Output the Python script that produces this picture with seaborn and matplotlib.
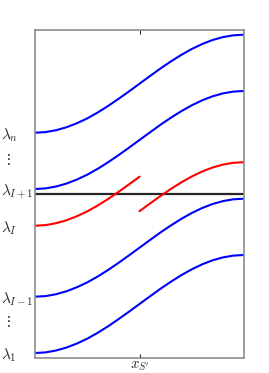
import numpy as np
import pandas as pd
import matplotlib
matplotlib.use("Agg")
import matplotlib.pyplot as plt
import seaborn as sns

# shared S-shaped profile (fraction of the total rise)
t_grid = [0.0, 0.05, 0.1, 0.15, 0.2, 0.25, 0.3, 0.35, 0.4, 0.45, 0.5,
          0.55, 0.6, 0.65, 0.7, 0.75, 0.8, 0.85, 0.9, 0.95, 1.0]
profile = [0.0, 0.006, 0.025, 0.055, 0.096, 0.146, 0.206, 0.273, 0.346, 0.422, 0.5,
           0.578, 0.655, 0.727, 0.794, 0.854, 0.905, 0.946, 0.976, 0.994, 1.0]
rise = 98.0

# starting levels of the eigenvalue branches
blue_names = ["l1", "lI-1", "lI+1", "ln"]
blue_starts = [5.0, 61.3, 169.0, 225.3]
red_left_start = 132.3     # lambda_I before the jump
red_right_start = 97.8     # lambda_I after the jump
jump_at = 0.5
threshold = 164.5          # black horizontal line

tick_pos = [5.0, 38.0, 61.3, 132.3, 169.0, 200.0, 225.3]
tick_labels = [r"$\lambda_1$", r"$\;\vdots$", r"$\lambda_{I-1}$", r"$\lambda_I$",
               r"$\lambda_{I+1}$", r"$\;\vdots$", r"$\lambda_n$"]

rows = []
for name, s in zip(blue_names, blue_starts):
    for t, p in zip(t_grid, profile):
        rows.append((name, "blue", t, s + rise * p))
for t, p in zip(t_grid, profile):
    if t <= jump_at:
        rows.append(("lI_a", "red", t, red_left_start + rise * p))
    if t >= jump_at:
        rows.append(("lI_b", "red", t, red_right_start + rise * p))
df = pd.DataFrame(rows, columns=["curve", "kind", "x", "y"])

sns.set_style("white")
plt.rcParams["mathtext.fontset"] = "cm"
plt.rcParams["font.family"] = ["DejaVu Serif"]

fig = plt.figure(figsize=(2.69, 3.73), dpi=100)
ax = fig.add_axes([35 / 269, 15 / 373, 209 / 269, 328 / 373])

ax.axhline(threshold, color="#262626", lw=1.6, zorder=1)
sns.lineplot(data=df, x="x", y="y", hue="kind", units="curve", estimator=None,
             palette={"blue": "#0000ff", "red": "#ff0000"}, legend=False,
             linewidth=1.5, sort=False, ax=ax, zorder=2)

ax.set_xlim(0, 1)
ax.set_ylim(0, 328)
ax.set_xticks([jump_at])
ax.set_xticklabels([r"$x_{S'}$"], fontsize=10.5)
ax.set_yticks(tick_pos)
ax.set_yticklabels(tick_labels, fontsize=11)
ax.set_xlabel("")
ax.set_ylabel("")
ax.tick_params(axis="x", direction="in", length=3, width=0.8, color="#262626",
               top=True, bottom=True, pad=1)
ax.tick_params(axis="y", length=0, pad=24.5)
for lab in ax.get_yticklabels():
    lab.set_horizontalalignment("left")
for sp in ax.spines.values():
    sp.set_color("#8c8c8c")
    sp.set_linewidth(1.2)

fig.savefig("out.png", dpi=100)
